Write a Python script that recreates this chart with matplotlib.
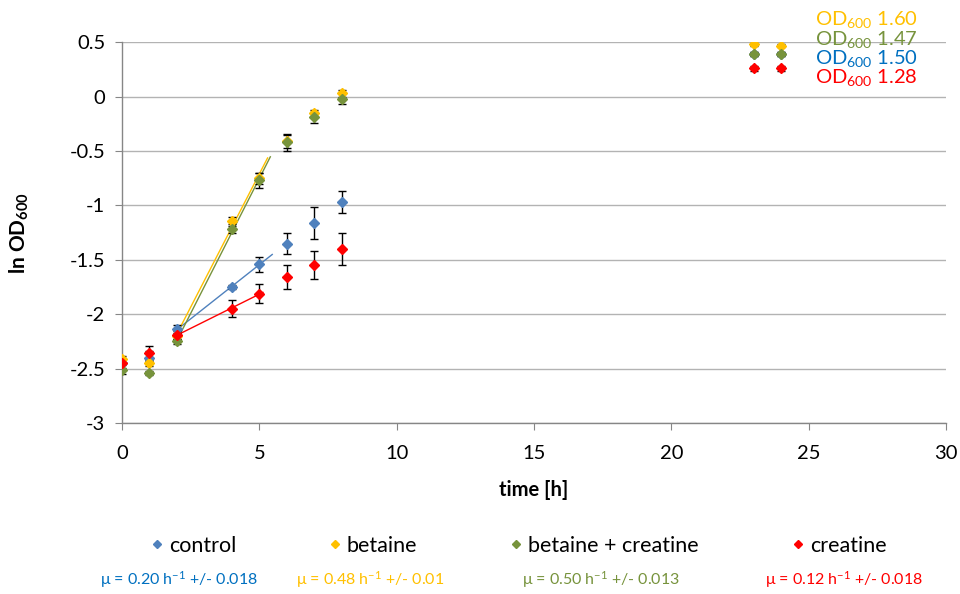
import numpy as np
import matplotlib
matplotlib.use("Agg")
import matplotlib.pyplot as plt

plt.rcParams['font.family'] = ['Lato', 'DejaVu Sans']
plt.rcParams['mathtext.fontset'] = 'custom'
plt.rcParams['mathtext.rm'] = 'Lato'
plt.rcParams['mathtext.it'] = 'Lato'
plt.rcParams['mathtext.bf'] = 'Lato:bold'

# time points [h]
time = [0, 1, 2, 4, 5, 6, 7, 8, 23, 24]

# ln OD600 means and standard deviations per condition
control = [-2.45, -2.40, -2.14, -1.75, -1.54, -1.35, -1.16, -0.97, 0.39, 0.39]
control_err = [0.04, 0.06, 0.04, 0.02, 0.07, 0.10, 0.15, 0.10, 0.02, 0.02]

betaine = [-2.41, -2.45, -2.20, -1.14, -0.75, -0.41, -0.15, 0.03, 0.48, 0.47]
betaine_err = [0.03, 0.03, 0.03, 0.03, 0.05, 0.06, 0.03, 0.03, 0.01, 0.01]

betaine_creatine = [-2.51, -2.54, -2.25, -1.22, -0.77, -0.42, -0.19, -0.02, 0.39, 0.39]
betaine_creatine_err = [0.04, 0.02, 0.02, 0.03, 0.07, 0.08, 0.05, 0.05, 0.02, 0.02]

creatine = [-2.45, -2.36, -2.19, -1.95, -1.81, -1.66, -1.55, -1.40, 0.26, 0.26]
creatine_err = [0.05, 0.07, 0.04, 0.08, 0.09, 0.11, 0.13, 0.15, 0.02, 0.02]

series_names = ['control', 'betaine', 'betaine + creatine', 'creatine']
final_od = ['1.50', '1.60', '1.47', '1.28']
growth_rates = ['0.20', '0.48', '0.50', '0.12']
growth_errs = ['0.018', '0.01', '0.013', '0.018']

marker_colors = ['#4F81BD', '#FFC000', '#77933C', '#FF0000']
text_colors = ['#0070C0', '#FFC000', '#77933C', '#FF0000']

# exponential phase used for the growth-rate fits, and how far each fit line is drawn
fit_times = [2, 4, 5]
fit_ends = [5.47, 5.3, 5.4, 5.13]

fig = plt.figure(figsize=(9.6, 5.94), dpi=100)
ax = fig.add_axes([122 / 960, 1 - 423 / 594, (946 - 122) / 960, (423 - 42.3) / 594])

all_vals = [control, betaine, betaine_creatine, creatine]
all_errs = [control_err, betaine_err, betaine_creatine_err, creatine_err]

# fit lines (drawn under the markers)
t = np.array(time, dtype=float)
for vals, col, t_end in zip(all_vals, marker_colors, fit_ends):
    v = np.array(vals)
    mask = np.isin(t, fit_times)
    slope, icpt = np.polyfit(t[mask], v[mask], 1)
    tt = np.array([2.0, t_end])
    ax.plot(tt, slope * tt + icpt, color=col, lw=1.0, zorder=2)

handles = []
for vals, errs, col, name in zip(all_vals, all_errs, marker_colors, series_names):
    ax.errorbar(time, vals, yerr=errs, fmt='none', ecolor='black',
                elinewidth=1.0, capsize=3.2, capthick=1.0, zorder=3)
    h, = ax.plot(time, vals, linestyle='none', marker='D', markersize=5.2,
                 color=col, markeredgecolor=col, zorder=4, label=name)
    handles.append(h)

ax.set_xlim(0, 30)
ax.set_ylim(-3, 0.5)
ax.set_xticks(np.arange(0, 31, 5))
ax.set_yticks(np.arange(-3, 0.51, 0.5))
ax.set_yticklabels(['-3', '-2.5', '-2', '-1.5', '-1', '-0.5', '0', '0.5'])
ax.yaxis.grid(True, color='#B3B3B3', lw=1.0)
ax.set_axisbelow(True)
for s in ['top', 'right']:
    ax.spines[s].set_visible(False)
for s in ['left', 'bottom']:
    ax.spines[s].set_color('#868686')
    ax.spines[s].set_linewidth(1.0)
ax.tick_params(axis='both', direction='out', length=5, color='#868686',
               labelsize=14.5, pad=7)
ax.tick_params(axis='x', pad=11)

ax.set_xlabel('time [h]', fontsize=14.5, fontweight='bold', labelpad=13)
ax.set_ylabel(r'ln OD$_{\mathbf{600}}$', fontsize=15, fontweight='bold', labelpad=28)

# final OD600 readings
od_order = [1, 2, 0, 3]
for i, k in enumerate(od_order):
    fig.text(815 / 960, 1 - (20 + i * 19.3) / 594,
             r'OD$_{600}$ ' + final_od[k], color=text_colors[k],
             fontsize=14.5, va='center', ha='left')

leg = fig.legend(handles=handles, loc='center', bbox_to_anchor=(0.54, 1 - 546 / 594),
                 ncol=4, frameon=False, fontsize=15.5, markerscale=0.75,
                 handlelength=0.6, handletextpad=0.25, columnspacing=4.3)

mu_x = [100, 296, 522, 765]
for x, r, e, col in zip(mu_x, growth_rates, growth_errs, text_colors):
    fig.text(x / 960, 1 - 580 / 594,
             r'μ = ' + r + r' h$^{-1}$ +/- ' + e,
             color=col, fontsize=11.5, va='center', ha='left')

fig.savefig('out.png', dpi=100)
